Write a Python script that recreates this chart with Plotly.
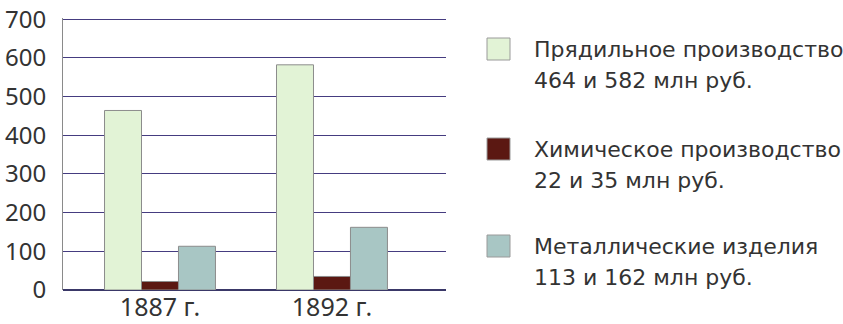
import plotly.graph_objects as go

# Production output, million rubles
years = ["1887 г.", "1892 г."]
series_names = ["Прядильное производство", "Химическое производство", "Металлические изделия"]
spinning = [464, 582]
chemical = [22, 35]
metal = [113, 162]
value_notes = ["464 и 582 млн руб.", "22 и 35 млн руб.", "113 и 162 млн руб."]
y_ticks = [0, 100, 200, 300, 400, 500, 600, 700]

colors = ["#e2f3d6", "#5b1812", "#a8c6c4"]
series_values = [spinning, chemical, metal]

W, H = 843, 324
L, R, T, B = 63, 397, 18, 34
plot_w, plot_h = W - L - R, H - T - B

fig = go.Figure()
for name, vals, col in zip(series_names, series_values, colors):
    fig.add_trace(go.Bar(
        x=list(range(len(years))), y=vals, name=name,
        marker=dict(color=col, line=dict(color="#8c8c8c", width=1)),
        showlegend=False,
    ))

fig.update_layout(
    width=W, height=H,
    margin=dict(l=L, r=R, t=T, b=B),
    paper_bgcolor="white", plot_bgcolor="white",
    barmode="group", bargap=0.355, bargroupgap=0,
    font=dict(family="Noto Sans, Open Sans, sans-serif", color="#333333"),
)
fig.update_xaxes(
    range=[-0.564, 1.663], tickvals=list(range(len(years))), ticktext=years,
    showgrid=False, zeroline=False, showline=False, ticks="", automargin=False,
    tickfont=dict(size=25, color="#333333"),
)
fig.update_yaxes(
    range=[0, 703], tickvals=y_ticks, showgrid=True, gridcolor="#453c80", gridwidth=1.2,
    zeroline=True, zerolinecolor="#3a3868", zerolinewidth=1.6,
    showline=True, linecolor="#8a8a8a", linewidth=1, automargin=False,
    ticks="", ticklabelstandoff=11, tickfont=dict(size=24, color="#333333"),
)


def px_x(x):
    return (x - L) / plot_w


def px_y(y):
    return (H - B - y) / plot_h


# Custom legend at the right: square swatch, name and value note
legend_rows = [(49, 80), (149, 180), (246, 277)]
for name, note, col, (y1, y2) in zip(series_names, value_notes, colors, legend_rows):
    fig.add_shape(
        type="rect", xref="paper", yref="paper",
        x0=px_x(487), x1=px_x(510),
        y0=px_y(y1 + 11), y1=px_y(y1 - 11),
        fillcolor=col, line=dict(color="#9a9a9a", width=1),
    )
    for txt, yy in ((name, y1), (note, y2)):
        fig.add_annotation(
            xref="paper", yref="paper", x=px_x(532), y=px_y(yy),
            xanchor="left", yanchor="middle", showarrow=False, align="left",
            text=txt, font=dict(family="DejaVu Sans, sans-serif", size=22, color="#333333"),
        )

fig.write_html("out.html")
